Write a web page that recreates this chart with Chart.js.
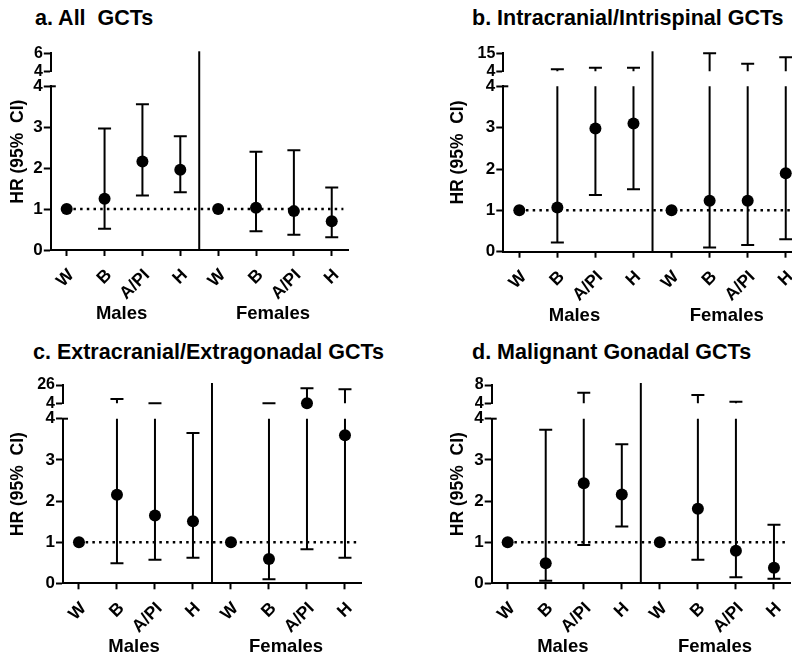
<!DOCTYPE html>
<html>
<head>
<meta charset="utf-8">
<script src="https://cdn.jsdelivr.net/npm/chart.js@4.4.1/dist/chart.umd.min.js"></script>
<style>
html,body{margin:0;padding:0;background:#fff;}
body{width:792px;height:662px;overflow:hidden;position:relative;}
.panel{position:absolute;}
.ttl{position:absolute;font-family:"Liberation Sans",Arial,sans-serif;font-weight:bold;font-size:21.5px;line-height:21px;color:#000;white-space:pre;}
</style>
</head>
<body>
<div class="ttl" style="left:35px;top:8px">a. All  GCTs</div>
<div class="ttl" style="left:472px;top:8px">b. Intracranial/Intrispinal GCTs</div>
<div class="ttl" style="left:33px;top:342px">c. Extracranial/Extragonadal GCTs</div>
<div class="ttl" style="left:472px;top:342px">d. Malignant Gonadal GCTs</div>
<div class="panel" style="left:0px;top:0px"><canvas id="ca" width="396" height="331"></canvas></div>
<div class="panel" style="left:396px;top:0px"><canvas id="cb" width="420" height="331"></canvas></div>
<div class="panel" style="left:0px;top:331px"><canvas id="cc" width="396" height="331"></canvas></div>
<div class="panel" style="left:396px;top:331px"><canvas id="cd" width="420" height="331"></canvas></div>
<script>
// ---------- data ----------
const categories = ['W', 'B', 'A/PI', 'H', 'W', 'B', 'A/PI', 'H'];
const groups = ['Males', 'Females'];
const groupPos = [1.45, 5.45];
const lowerTicks = [0, 1, 2, 3, 4];
const yTitle = 'HR (95%  CI)';

// a. All GCTs
const hrA   = [1, 1.25, 2.16, 1.96, 1, 1.03, 0.95, 0.70];
const lowA  = [null, 0.52, 1.33, 1.41, null, 0.46, 0.37, 0.31];
const highA = [null, 2.97, 3.56, 2.78, null, 2.40, 2.44, 1.53];
const upperTicksA = [4, 6];

// b. Intracranial/Intrispinal GCTs
const hrB   = [1, 1.07, 2.98, 3.10, 1, 1.23, 1.23, 1.90];
const lowB  = [null, 0.22, 1.37, 1.51, null, 0.10, 0.16, 0.30];
const highB = [null, 5.2, 6.2, 6.2, null, 15, 8.6, 12.6];
const upperTicksB = [4, 15];

// c. Extracranial/Extragonadal GCTs
const hrC   = [1, 2.15, 1.65, 1.51, 1, 0.59, 4.2, 3.60];
const lowC  = [null, 0.49, 0.57, 0.62, null, 0.10, 0.83, 0.62];
const highC = [null, 9.2, 4.1, 3.65, null, 4.1, 22, 20.8];
const upperTicksC = [4, 26];

// d. Malignant Gonadal GCTs
const hrD   = [1, 0.49, 2.43, 2.16, 1, 1.81, 0.79, 0.38];
const lowD  = [null, 0.06, 0.93, 1.38, null, 0.57, 0.15, 0.11];
const highD = [null, 3.73, 6.3, 3.38, null, 5.8, 4.35, 1.42];
const upperTicksD = [4, 8];

// ---------- drawing ----------
const FAM = '"Liberation Sans", Arial, sans-serif';
const BREAK = 4;

const errPlugin = {
  id: 'err',
  beforeDatasetsDraw(chart, args, o) {
    const {ctx, chartArea} = chart;
    const x = chart.scales.x, y = chart.scales.y, yu = chart.scales.yu;
    ctx.save();
    ctx.strokeStyle = '#000';
    ctx.lineWidth = 2;
    // group divider
    const xd = (x.getPixelForValue(3) + x.getPixelForValue(4)) / 2;
    ctx.beginPath();
    ctx.moveTo(xd, chartArea.top - 2);
    ctx.lineTo(xd, chartArea.bottom);
    ctx.stroke();
    // small cap on top of the lower axis segment
    const y4 = y.getPixelForValue(BREAK);
    ctx.beginPath();
    ctx.moveTo(chartArea.left - 1, y4);
    ctx.lineTo(chartArea.left + 5, y4);
    ctx.stroke();
    // reference line HR = 1
    const y1 = y.getPixelForValue(1);
    ctx.save();
    ctx.lineWidth = 2.5;
    ctx.setLineDash([2.5, 4.2]);
    ctx.beginPath();
    ctx.moveTo(x.getPixelForValue(0), y1);
    ctx.lineTo(chartArea.right - 5, y1);
    ctx.stroke();
    ctx.restore();
    // error bars
    const cap = 6.5;
    o.low.forEach((lo, i) => {
      const hi = o.high[i];
      if (lo == null || hi == null) return;
      const px = x.getPixelForValue(i);
      const yLo = y.getPixelForValue(lo);
      const yTop = y.getPixelForValue(Math.min(hi, BREAK));
      ctx.beginPath();
      ctx.moveTo(px, yLo); ctx.lineTo(px, yTop);
      ctx.moveTo(px - cap, yLo); ctx.lineTo(px + cap, yLo);
      if (hi <= BREAK) {
        ctx.moveTo(px - cap, yTop); ctx.lineTo(px + cap, yTop);
      } else {
        const yb = yu.getPixelForValue(BREAK), yh = yu.getPixelForValue(hi);
        ctx.moveTo(px, yb); ctx.lineTo(px, yh);
        ctx.moveTo(px - cap, yh); ctx.lineTo(px + cap, yh);
      }
      ctx.stroke();
    });
    ctx.restore();
  }
};

function makePanel(id, hr, low, high, upperTicks, g) {
  const upMax = upperTicks[upperTicks.length - 1];
  const lowerPts = [], upperPts = [];
  hr.forEach((v, i) => { (v > BREAK ? upperPts : lowerPts).push({x: i, y: v}); });
  const axisGrid = {display: true, drawOnChartArea: false, drawTicks: true, tickLength: 7, tickWidth: 2, tickColor: '#000', color: '#000'};
  const axisBorder = {display: true, color: '#000', width: 2};
  new Chart(document.getElementById(id), {
    type: 'scatter',
    data: {
      datasets: [
        {data: lowerPts, xAxisID: 'x', yAxisID: 'y', pointRadius: 6, pointBackgroundColor: '#000', pointBorderWidth: 0, showLine: false, clip: false},
        {data: upperPts, xAxisID: 'x', yAxisID: 'yu', pointRadius: 6, pointBackgroundColor: '#000', pointBorderWidth: 0, showLine: false, clip: false}
      ]
    },
    options: {
      responsive: false,
      animation: false,
      events: [],
      layout: {padding: {left: g.pl, right: g.pr, top: g.pt, bottom: g.pb}},
      plugins: {
        legend: {display: false},
        tooltip: {enabled: false},
        err: {low: low, high: high}
      },
      scales: {
        x: {
          type: 'linear', position: 'bottom', min: -0.42, max: 7.44, weight: 0,
          afterBuildTicks: s => { s.ticks = categories.map((c, i) => ({value: i})); },
          afterFit: s => { s.height = g.xh; },
          ticks: {callback: (v, i) => categories[i], minRotation: 45, maxRotation: 45, autoSkip: false,
                  font: {family: FAM, weight: 'bold', size: 17.5}, color: '#000', padding: 9, labelOffset: 4.5},
          grid: {display: true, drawOnChartArea: false, drawTicks: true, tickLength: 6, tickWidth: 2, tickColor: '#000', color: '#000', offset: false},
          border: axisBorder
        },
        xg: {
          type: 'linear', position: 'bottom', min: -0.42, max: 7.44, weight: 1,
          afterBuildTicks: s => { s.ticks = groupPos.map(v => ({value: v})); },
          afterFit: s => { s.height = g.xgh; },
          ticks: {callback: (v, i) => groups[i], minRotation: 0, maxRotation: 0, autoSkip: false,
                  font: {family: FAM, weight: 'bold', size: 18.5}, color: '#000', padding: -9},
          grid: {display: false}, border: {display: false}
        },
        yt: {
          type: 'linear', position: 'left', weight: 10, min: 0, max: 1,
          afterFit: s => { s.width = 20; },
          ticks: {display: false}, grid: {display: false}, border: {display: false},
          title: {display: true, text: yTitle, color: '#000', padding: 0,
                  font: {family: FAM, weight: 'bold', size: 17.5, lineHeight: 1}}
        },
        yu: {
          type: 'linear', position: 'left', stack: 'hr', stackWeight: g.wu, weight: 3, min: BREAK, max: upMax,
          afterBuildTicks: s => { s.ticks = upperTicks.map(v => ({value: v})); },
          afterFit: s => { s.width = g.yw; },
          ticks: {font: {family: FAM, weight: 'bold', size: 16}, color: '#000', padding: 1, autoSkip: false},
          grid: axisGrid, border: axisBorder
        },
        yg: {
          type: 'linear', position: 'left', stack: 'hr', stackWeight: g.wg, weight: 2, min: 0, max: 1,
          afterFit: s => { s.width = g.yw; },
          ticks: {display: false}, grid: {display: false}, border: {display: false}
        },
        y: {
          type: 'linear', position: 'left', stack: 'hr', stackWeight: g.wl, weight: 1, min: 0, max: BREAK,
          afterBuildTicks: s => { s.ticks = lowerTicks.map(v => ({value: v})); },
          afterFit: s => { s.width = g.yw; },
          ticks: {font: {family: FAM, weight: 'bold', size: 17}, color: '#000', padding: 1, autoSkip: false},
          grid: axisGrid, border: axisBorder
        }
      }
    },
    plugins: [errPlugin]
  });
}

makePanel('ca', hrA, lowA, highA, upperTicksA,
  {pl: 9.8, pr: 47.6, pt: 53.3, pb: 2, xh: 54, xgh: 25, yw: 21, wu: 18, wg: 15, wl: 163.7});
makePanel('cb', hrB, lowB, highB, upperTicksB,
  {pl: 53.3, pr: 13.5, pt: 53.3, pb: 0.3, xh: 54, xgh: 25, yw: 34, wu: 18, wg: 15, wl: 165.4});
makePanel('cc', hrC, lowC, highC, upperTicksC,
  {pl: 9, pr: 34.3, pt: 54, pb: 0, xh: 54, xgh: 24.7, yw: 34, wu: 18.3, wg: 15.4, wl: 164.6});
makePanel('cd', hrD, lowD, highD, upperTicksD,
  {pl: 53.7, pr: 25.3, pt: 54, pb: 0, xh: 54, xgh: 24.7, yw: 22, wu: 18.3, wg: 15.4, wl: 164.6});
</script>
</body>
</html>
